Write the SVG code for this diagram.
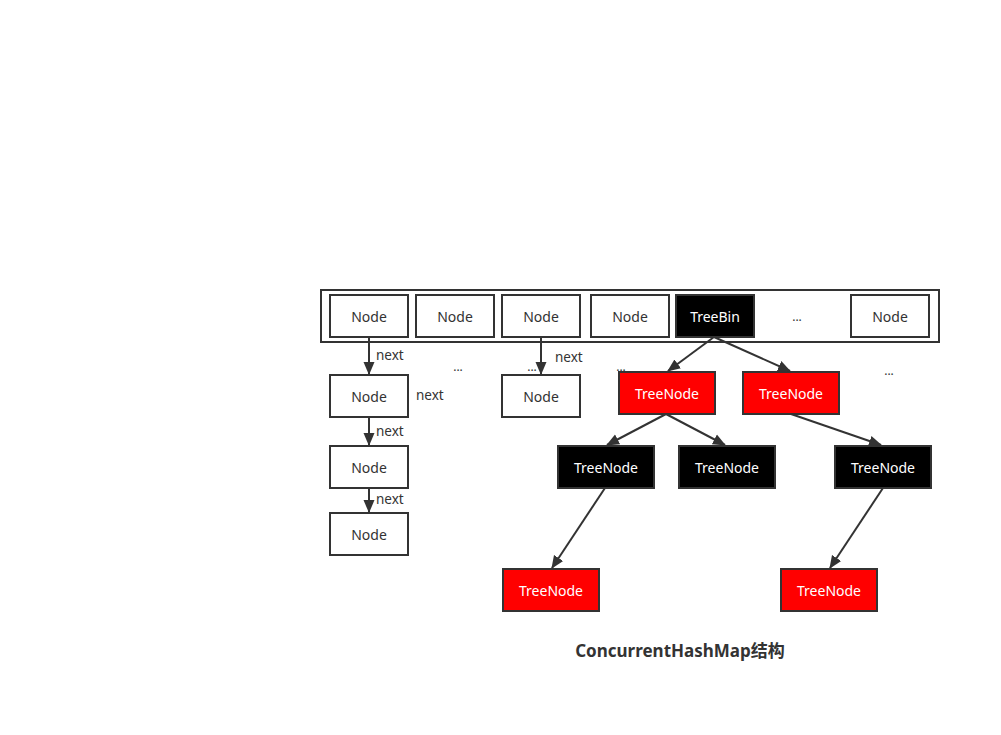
<svg xmlns="http://www.w3.org/2000/svg" width="1001" height="735" viewBox="0 0 1001 735">
<defs>
<marker id="ah" markerWidth="13" markerHeight="13" viewBox="0 0 13 13" refX="12" refY="6.5" orient="auto" markerUnits="userSpaceOnUse">
<path d="M0,1 L13,6.5 L0,12 Z" fill="#333"/>
</marker>
<style>
.n{fill:#fff;stroke:#333;stroke-width:2}
.b{fill:#000;stroke:#333;stroke-width:2}
.r{fill:#f00;stroke:#333;stroke-width:2}
text{font-family:"Noto Sans","Open Sans","Noto Sans CJK SC",sans-serif;font-size:14px;text-anchor:middle;dominant-baseline:central}
.t{fill:#333}
.w{fill:#fff}
.l{fill:#333;text-anchor:start;font-size:13.5px}
.d{fill:#333;font-size:12px}
.c{stroke:#333;stroke-width:2;fill:none;marker-end:url(#ah)}
</style>
</defs>
<rect width="1001" height="735" fill="#fff"/>
<g id="array"><rect x="321" y="290" width="618" height="52" fill="none" stroke="#333" stroke-width="2"/></g>
<g id="n1"><rect class="n" x="330" y="295" width="78" height="42"/><text class="t" x="369" y="316">Node</text></g>
<g id="n2"><rect class="n" x="416" y="295" width="78" height="42"/><text class="t" x="455" y="316">Node</text></g>
<g id="n3"><rect class="n" x="502" y="295" width="78" height="42"/><text class="t" x="541" y="316">Node</text></g>
<g id="n4"><rect class="n" x="591" y="295" width="78" height="42"/><text class="t" x="630" y="316">Node</text></g>
<g id="treebin"><rect class="b" x="676" y="295" width="78" height="42"/><text class="w" x="715" y="316">TreeBin</text></g>
<g id="dots1"><text class="d" x="797" y="316">...</text></g>
<g id="n5"><rect class="n" x="851" y="295" width="78" height="42"/><text class="t" x="890" y="316">Node</text></g>
<g id="n1b"><rect class="n" x="330" y="375" width="78" height="42"/><text class="t" x="369" y="396">Node</text></g>
<g id="n3b"><rect class="n" x="502" y="375" width="78" height="42"/><text class="t" x="541" y="396">Node</text></g>
<g id="n1c"><rect class="n" x="330" y="446" width="78" height="42"/><text class="t" x="369" y="467">Node</text></g>
<g id="n1d"><rect class="n" x="330" y="513" width="78" height="42"/><text class="t" x="369" y="534">Node</text></g>
<g id="tr1"><rect class="r" x="619" y="372" width="96" height="42"/><text class="w" x="667" y="393">TreeNode</text></g>
<g id="tr2"><rect class="r" x="743" y="372" width="96" height="42"/><text class="w" x="791" y="393">TreeNode</text></g>
<g id="tb1"><rect class="b" x="558" y="446" width="96" height="42"/><text class="w" x="606" y="467">TreeNode</text></g>
<g id="tb2"><rect class="b" x="679" y="446" width="96" height="42"/><text class="w" x="727" y="467">TreeNode</text></g>
<g id="tb3"><rect class="b" x="835" y="446" width="96" height="42"/><text class="w" x="883" y="467">TreeNode</text></g>
<g id="tr3"><rect class="r" x="503" y="569" width="96" height="42"/><text class="w" x="551" y="590">TreeNode</text></g>
<g id="tr4"><rect class="r" x="781" y="569" width="96" height="42"/><text class="w" x="829" y="590">TreeNode</text></g>
<g id="labels">
<text class="l" x="416" y="395">next</text>
<text class="d" x="458" y="366">...</text>
<text class="d" x="532" y="366">...</text>
<text class="d" x="621" y="366">...</text>
<text class="d" x="889" y="370">...</text>
</g>
<g id="connectors">
<line class="c" x1="369" y1="337" x2="369" y2="374"/>
<line class="c" x1="541" y1="337" x2="541" y2="374"/>
<line class="c" x1="369" y1="417" x2="369" y2="445"/>
<line class="c" x1="369" y1="488" x2="369" y2="512"/>
<line class="c" x1="714" y1="337" x2="668" y2="371"/>
<line class="c" x1="714" y1="337" x2="790" y2="371"/>
<line class="c" x1="666" y1="414" x2="607" y2="445"/>
<line class="c" x1="666" y1="414" x2="725" y2="445"/>
<line class="c" x1="791" y1="414" x2="881" y2="445"/>
<line class="c" x1="605" y1="488" x2="552" y2="568"/>
<line class="c" x1="883" y1="488" x2="830" y2="568"/>
<text class="l" x="376" y="355">next</text>
<text class="l" x="555" y="357">next</text>
<text class="l" x="376" y="431">next</text>
<text class="l" x="376" y="499">next</text>
</g>
<g id="title"><text x="680" y="650" style="font-size:17px;font-weight:bold;fill:#333">ConcurrentHashMap结构</text></g>
</svg>
